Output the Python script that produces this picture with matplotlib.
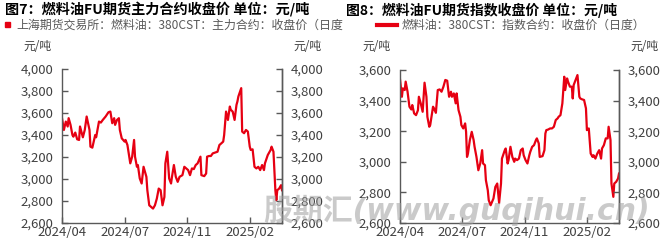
import matplotlib
matplotlib.use("Agg")
import matplotlib.pyplot as plt
from matplotlib.ticker import FuncFormatter, FixedLocator

plt.rcParams['font.family'] = ['Noto Sans CJK SC', 'DejaVu Sans']

# ---- data ----
tick_labels = ["2024/04", "2024/07", "2024/11", "2025/02"]
tick_idx = [0, 66, 132, 198]
n_days = 232

left_idx = [0, 2, 4, 6, 7, 9, 11, 12, 14, 16,
            18, 19, 22, 24, 26, 29, 30, 32, 35, 36,
            39, 41, 43, 46, 49, 51, 53, 55, 56, 58,
            60, 61, 63, 66, 67, 69, 72, 74, 76, 77,
            79, 80, 82, 84, 86, 89, 90, 92, 94, 96,
            98, 100, 102, 104, 106, 108, 109, 111, 113, 115,
            116, 118, 120, 122, 124, 127, 129, 131, 133, 135,
            137, 139, 141, 143, 146, 147, 150, 152, 153, 155,
            157, 159, 161, 164, 166, 168, 170, 171, 173, 175,
            177, 178, 180, 182, 184, 185, 186, 189, 190, 192,
            194, 196, 198, 199, 201, 203, 205, 207, 209, 211,
            213, 214, 217, 220, 221, 223, 225, 226, 227, 229,
            231, 232]
left_vals = [3553, 3446, 3522, 3477, 3553, 3492, 3400, 3385, 3422, 3361,
             3355, 3477, 3379, 3446, 3568, 3446, 3294, 3285, 3400, 3379,
             3522, 3513, 3537, 3568, 3607, 3613, 3507, 3553, 3492, 3537,
             3553, 3446, 3370, 3340, 3355, 3309, 3142, 3203, 3355, 3203,
             3111, 3127, 3005, 2959, 3111, 3020, 2898, 2761, 2746, 2731,
             2761, 2822, 2913, 2898, 2761, 2837, 3142, 3248, 3005, 2959,
             3020, 3127, 3020, 2974, 3020, 3035, 3111, 3096, 3081, 3035,
             3096, 3090, 3127, 3142, 3203, 3035, 3026, 3050, 3203, 3209,
             3209, 3233, 3239, 3248, 3309, 3324, 3340, 3400, 3613, 3537,
             3659, 3629, 3613, 3537, 3674, 3705, 3750, 3826, 3431, 3416,
             3446, 3431, 3294, 3264, 3270, 3111, 3096, 3111, 3081, 3127,
             3081, 3142, 3218, 3264, 3294, 3248, 2898, 2807, 2898, 2913,
             2944, 2898]

right_idx = [0, 2, 3, 5, 6, 8, 10, 12, 13, 15,
             17, 19, 20, 22, 24, 26, 28, 29, 31, 32,
             35, 36, 38, 40, 42, 44, 46, 48, 50, 52,
             54, 55, 57, 59, 60, 62, 64, 65, 67, 69,
             70, 71, 72, 74, 76, 78, 79, 81, 83, 85,
             87, 88, 90, 91, 93, 94, 96, 99, 101, 103,
             105, 107, 108, 111, 112, 114, 115, 117, 119, 121,
             122, 124, 126, 128, 130, 131, 133, 135, 137, 138,
             140, 142, 144, 145, 147, 148, 151, 153, 154, 155,
             157, 159, 161, 163, 165, 167, 168, 170, 172, 174,
             175, 177, 178, 180, 182, 183, 184, 186, 188, 190,
             191, 193, 195, 197, 198, 200, 202, 204, 205, 207,
             209, 211, 213, 214, 216, 218, 220, 221, 223, 224,
             226, 227, 229, 231, 232]
right_vals = [3539, 3425, 3480, 3469, 3524, 3458, 3360, 3342, 3371, 3316,
              3305, 3337, 3425, 3381, 3327, 3517, 3425, 3294, 3229, 3240,
              3360, 3349, 3320, 3469, 3473, 3458, 3491, 3535, 3530, 3425,
              3458, 3425, 3447, 3382, 3447, 3338, 3294, 3240, 3218, 3251,
              3196, 3032, 3054, 3142, 3196, 3142, 3098, 3032, 2945, 2989,
              3076, 2989, 2978, 2880, 2814, 2749, 2716, 2760, 2836, 2858,
              2731, 2858, 3021, 3076, 3087, 2989, 3011, 3098, 3032, 3000,
              3021, 3011, 3021, 3076, 3087, 3043, 3011, 2989, 3043, 3065,
              3098, 3109, 3142, 3153, 3120, 3032, 3037, 3076, 3185, 3207,
              3211, 3218, 3218, 3229, 3273, 3284, 3294, 3305, 3382, 3556,
              3469, 3545, 3524, 3491, 3491, 3414, 3502, 3535, 3567, 3425,
              3414, 3408, 3404, 3349, 3207, 3218, 3054, 3032, 3043, 3021,
              3054, 3076, 3021, 3087, 3109, 3153, 3153, 3229, 3142, 2858,
              2771, 2858, 2869, 2891, 2923]

left_title = "图7：燃料油FU期货主力合约收盘价 单位：元/吨"
left_legend = "上海期货交易所：燃料油：380CST：主力合约：收盘价（日度"
right_title = "图8：燃料油FU期货指数收盘价 单位：元/吨"
right_legend = "燃料油：380CST：指数合约：收盘价（日度）"
unit = "元/吨"
watermark = "股期汇(www.guqihui.cn)"

RED = "#E60012"
SPINE = "#595959"
TXT = "#404040"

W, H = 664, 243
fig = plt.figure(figsize=(W / 100, H / 100), dpi=100)


def px(x0, y0, x1, y1):
    return [x0 / W, 1 - y1 / H, (x1 - x0) / W, (y1 - y0) / H]


def setup(ax, ylim, step):
    ax.set_xlim(0, n_days)
    ax.set_ylim(*ylim)
    ax.xaxis.set_major_locator(FixedLocator(tick_idx))
    ax.set_xticklabels(tick_labels)
    yt = list(range(ylim[0], ylim[1] + 1, step))
    ax.set_yticks(yt)
    ax.yaxis.set_major_formatter(FuncFormatter(lambda v, p: f"{int(v):,}"))
    for s in ["left", "right", "bottom"]:
        ax.spines[s].set_color(SPINE)
        ax.spines[s].set_linewidth(1.0)
    ax.spines["top"].set_visible(False)
    ax.tick_params(axis="both", direction="in", length=4, width=1.0,
                   color=SPINE, labelcolor=TXT, labelsize=9.5)
    ax.tick_params(axis="y", pad=6)
    ax.tick_params(axis="x", pad=2)
    ax2 = ax.twinx()
    ax2.set_ylim(*ylim)
    ax2.set_yticks(yt)
    ax2.yaxis.set_major_formatter(FuncFormatter(lambda v, p: f"{int(v):,}"))
    for s in ["left", "top", "bottom"]:
        ax2.spines[s].set_visible(False)
    ax2.spines["right"].set_color(SPINE)
    ax2.spines["right"].set_linewidth(1.0)
    ax2.tick_params(axis="y", direction="in", length=4, width=1.0,
                    color=SPINE, labelcolor=TXT, labelsize=9.5, pad=6)
    return ax2


axL = fig.add_axes(px(62, 69, 282, 223))
setup(axL, (2600, 4000), 200)
axL.plot(left_idx, left_vals, color=RED, lw=1.6, solid_joinstyle="round")

axR = fig.add_axes(px(400, 70, 619, 223))
setup(axR, (2600, 3600), 200)
axR.plot(right_idx, right_vals, color=RED, lw=1.6, solid_joinstyle="round")

# titles
fig.text(5 / W, 1 - 10 / H, left_title, fontsize=10.2, fontweight="bold",
         color="#000000", va="center", ha="left")
fig.text(346 / W, 1 - 10 / H, right_title, fontsize=10.0, fontweight="bold",
         color="#000000", va="center", ha="left")

# legends
fig.patches.append(plt.Rectangle((5 / W, 1 - 27 / H), 5 / W, 5 / H,
                                 transform=fig.transFigure, color=RED))
fig.text(16 / W, 1 - 25 / H, left_legend, fontsize=8.6, color="#595959",
         va="center", ha="left")
fig.add_artist(plt.Line2D([377 / W, 397 / W], [1 - 25 / H, 1 - 25 / H],
                          transform=fig.transFigure, color=RED, lw=3))
fig.text(402 / W, 1 - 25 / H, right_legend, fontsize=8.6, color="#595959",
         va="center", ha="left")

# units
for xx in [23, 293, 362, 630]:
    fig.text(xx / W, 1 - 46 / H, unit, fontsize=8.5, color=TXT,
             va="center", ha="left")

# watermark
fig.text(263 / W, 1 - 210 / H, watermark, fontsize=21.5,
         fontweight="bold", fontstyle="italic",
         family=["DejaVu Sans", "Noto Sans CJK SC"],
         color="#a0a0a0", alpha=0.55,
         va="center", ha="left", zorder=10)

fig.savefig("out.png", dpi=100)
